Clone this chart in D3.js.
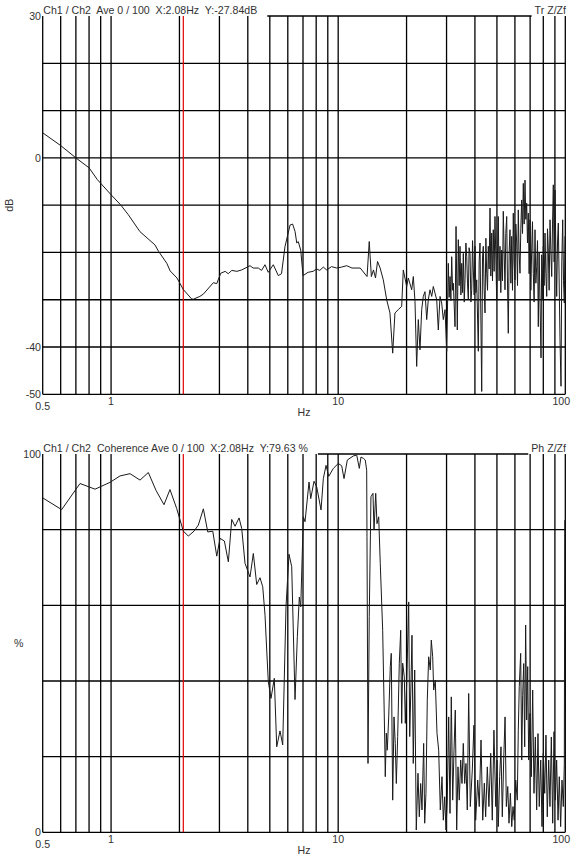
<!DOCTYPE html>
<html>
<head>
<meta charset="utf-8">
<script src="https://cdn.jsdelivr.net/npm/d3@7"></script>
<style>
body { margin: 0; background: #fff; }
text { font-family: "Liberation Sans", Arial, sans-serif; font-size: 10.6px; fill: #333; white-space: pre; }
</style>
</head>
<body>
<svg id="chart" width="573" height="858"></svg>
<script>
// x axis (Hz, log)
var freqLabels = [0.5, 1, 10, 100];
var cursorHz = 2.08;

// top panel: transfer function Tr Z/Zf (dB)
var trTitle = "Ch1 / Ch2  Ave 0 / 100  X:2.08Hz  Y:-27.84dB";
var trTag = "Tr Z/Zf";
var trTickLabels = [30, 0, -40, -50];
// 0.5 .. 30 Hz
var trFreqLow = [0.5, 0.6, 0.7, 0.8, 0.87, 1.0, 1.1, 1.19, 1.34, 1.56, 1.62, 1.76, 1.82, 1.95, 2.08, 2.26, 2.30, 2.46, 2.55, 2.82,
  2.92, 3.04, 3.18, 3.28, 3.40, 3.58, 3.76, 4.09, 4.22, 4.45, 4.60, 4.76, 4.92, 5.18, 5.45, 5.63, 5.83, 6.14, 6.30, 6.46,
  6.57, 6.67, 6.84, 7.00, 7.37, 7.75, 8.03, 8.30, 8.60, 8.90, 9.35, 9.85, 10.35, 10.9, 11.5, 12.5, 13.4, 13.7, 14.0, 14.3,
  14.6, 14.9, 15.3, 15.8, 16.35, 16.9, 17.38, 17.78, 18.39, 19.04, 19.35, 20.03, 20.36, 21.07, 21.42, 21.79, 22.16, 22.53, 22.92, 23.32,
  23.70, 24.11, 24.53, 24.93, 25.37, 25.81, 26.23, 26.69, 27.15, 27.60, 28.08, 28.56, 29.03, 29.54];
var trDbLow = [5.3, 2.6, 0.0, -2.1, -4.6, -7.8, -9.9, -12.0, -15.6, -18.4, -19.8, -22.3, -23.9, -25.4, -27.84, -29.8, -29.9, -29.3, -28.8, -26.4,
  -26.6, -24.4, -24.0, -24.5, -23.8, -24.0, -23.7, -22.8, -23.3, -23.3, -23.8, -22.6, -24.2, -22.6, -24.9, -24.5, -18.8, -14.2, -14.0, -15.6,
  -18.0, -17.7, -19.5, -24.9, -24.2, -24.0, -23.5, -23.8, -23.1, -23.7, -23.0, -23.3, -23.1, -22.8, -23.3, -23.3, -25.1, -17.7, -25.1, -23.7,
  -25.4, -21.9, -23.3, -25.8, -30.0, -32.8, -41.3, -32.8, -32.1, -31.4, -23.7, -27.2, -25.4, -27.9, -25.1, -30.4, -44.1, -34.2, -40.6, -32.1,
  -29.3, -28.3, -34.2, -30.0, -27.9, -29.3, -27.2, -28.6, -30.0, -36.4, -29.3, -30.7, -34.2, -32.1];
// 30 .. 100 Hz
var trFreqHigh = [30.05, 30.54, 30.8, 31.08, 31.35, 31.61, 31.9, 32.13, 32.69, 33.03,
  33.46, 33.80, 34.1, 34.39, 34.7, 34.99, 35.3, 35.56, 35.9, 36.18,
  36.5, 36.81, 37.1, 37.41, 37.7, 38.06, 38.4, 38.72, 39.05, 39.36,
  39.7, 40.04, 40.4, 40.73, 41.40, 41.75, 42.12, 42.85, 43.2, 43.55,
  43.9, 44.31, 44.7, 45.08, 45.45, 45.81, 46.2, 46.61, 47.0, 47.42,
  47.8, 48.19, 48.6, 49.03, 49.88, 50.3, 50.70, 51.1, 51.58, 52.0,
  52.48, 52.9, 53.33, 54.26, 54.7, 55.21, 55.6, 56.10, 56.6, 57.08,
  57.6, 58.08, 58.55, 59.02, 59.5, 60.05, 60.55, 61.09, 61.6, 62.09,
  62.6, 63.17, 63.7, 64.27, 64.8, 65.33, 65.9, 66.46, 67.0, 67.61,
  68.15, 68.72, 69.3, 69.92, 70.5, 71.12, 71.7, 72.30, 72.9, 73.56,
  74.2, 74.84, 75.45, 76.06, 76.7, 77.39, 78.18, 78.7, 79.22, 79.6,
  80.02, 80.7, 81.41, 82.1, 82.83, 83.5, 84.18, 84.9, 85.65, 86.4,
  87.14, 87.85, 88.56, 89.3, 90.11, 90.9, 91.64, 92.4, 93.16, 93.9,
  94.77, 95.74, 96.5, 97.41, 98.2, 99.0, 99.7];
var trDbHigh = [-40.9, -22.3, -29.5, -25.1, -30.2, -20.9, -28.0, -26.5, -35.7, -14.5,
  -36.4, -17.3, -27.0, -18.7, -29.0, -22.3, -28.5, -20.2, -30.5, -25.8,
  -18.0, -20.9, -26.5, -30.0, -19.0, -20.2, -30.5, -27.9, -17.5, -23.7,
  -29.0, -18.7, -28.5, -25.8, -40.9, -22.0, -18.0, -49.4, -21.0, -18.7,
  -27.5, -32.8, -17.0, -24.4, -28.0, -18.7, -23.5, -10.6, -25.0, -15.9,
  -26.0, -15.2, -24.0, -12.4, -30.0, -20.0, -12.4, -26.0, -18.7, -28.5,
  -19.5, -26.0, -11.3, -27.9, -16.0, -12.4, -25.0, -37.1, -20.0, -15.2,
  -26.5, -16.6, -28.0, -11.7, -22.0, -25.8, -14.0, -18.0, -27.0, -11.0,
  -20.0, -24.4, -15.0, -8.9, -16.0, -5.4, -14.0, -4.7, -13.0, -9.6,
  -18.0, -11.7, -24.5, -13.1, -28.0, -19.5, -13.5, -24.4, -30.5, -15.2,
  -26.5, -23.0, -17.5, -35.7, -20.0, -30.7, -42.3, -20.5, -23.7, -30.0,
  -18.7, -27.0, -15.9, -24.5, -29.3, -15.0, -19.5, -28.0, -13.1, -20.0,
  -25.1, -14.0, -5.7, -22.0, -6.8, -20.0, -29.3, -18.0, -13.8, -25.0,
  -38.5, -48.3, -22.0, -13.1, -26.0, -30.7, -16.6];

// bottom panel: coherence (%)
var cohTitle = "Ch1 / Ch2  Coherence Ave 0 / 100  X:2.08Hz  Y:79.63 %";
var cohTag = "Ph Z/Zf";
var cohTickLabels = [100, 0];
var cohFreq = [0.5, 0.606, 0.73, 0.85, 0.989, 1.095, 1.212, 1.341, 1.459, 1.577, 1.71, 1.817, 1.945, 2.08, 2.188, 2.318, 2.422, 2.549, 2.665, 2.804,
  2.92, 3.019, 3.154, 3.284, 3.399, 3.515, 3.66, 3.761, 3.889, 4.091, 4.23, 4.378, 4.527, 4.653, 4.763, 4.845, 4.924, 5.061, 5.233, 5.362,
  5.544, 5.698, 5.892, 6.074, 6.243, 6.456, 6.609, 6.744, 6.841, 7.023, 7.145, 7.441, 7.57, 7.828, 8.045, 8.404, 8.603, 8.842, 9.087, 9.521,
  10.01, 10.36, 10.61, 10.97, 11.66, 12.07, 12.39, 12.6, 12.95, 13.16, 13.35, 13.39, 13.53, 13.7, 13.94, 14.23, 14.38, 14.63, 14.82, 15.08,
  15.32, 15.70, 16.03, 16.12, 16.29, 16.45, 16.69, 16.96, 17.13, 17.38, 17.61, 17.84, 18.03, 18.28, 18.58, 18.85, 19.04, 19.23, 19.55, 19.75,
  20.03, 20.44, 20.65, 20.92, 21.13, 21.41, 21.72, 22.07, 22.46, 22.76, 23.08, 23.39, 23.79, 24.04, 24.35, 24.68, 25.03, 25.44, 25.7, 26.07,
  26.33, 26.76, 27.23, 27.7, 28.16, 28.65, 29.03, 29.44, 29.83, 30.22, 30.66, 31.07, 31.48, 31.93, 32.36, 32.78, 33.25, 33.69, 34.13, 34.63,
  35.09, 35.55, 36.06, 36.53, 37.02, 37.55, 38.17, 38.95, 39.6, 40.3, 41.15, 41.8, 42.55, 43.3, 44.0, 44.6, 45.35, 46.1, 46.95, 47.7,
  48.5, 49.4, 50.05, 50.7, 51.4, 52.1, 52.8, 53.55, 54.3, 55.0, 55.8, 56.5, 57.3, 58.1, 58.85, 59.6, 60.5, 61.45, 62.1, 62.7,
  63.6, 64.3, 64.9, 65.6, 66.25, 66.9, 67.6, 68.3, 69.0, 69.9, 70.85, 71.85, 72.8, 73.8, 74.8, 75.8, 76.8, 77.95, 78.95, 80.0,
  81.15, 82.2, 83.3, 84.5, 85.6, 86.8, 88.0, 89.2, 90.4, 91.6, 92.9, 94.1, 95.4, 96.7, 98.0, 99.0, 99.5];
var cohPct = [88.4, 85.3, 92.2, 90.7, 92.5, 94.2, 94.8, 93.1, 95.1, 90.4, 86.6, 90.6, 85.6, 79.63, 78.3, 79.6, 81.2, 85.5, 79.4, 79.6,
  73.0, 77.7, 77.0, 71.5, 82.7, 80.9, 83.1, 80.3, 71.1, 67.5, 73.7, 65.5, 67.3, 64.9, 57.4, 48.2, 39.8, 35.4, 40.7, 22.6,
  26.8, 23.1, 59.6, 73.5, 70.2, 35.1, 51.7, 62.2, 59.6, 83.4, 82.1, 92.6, 88.2, 92.8, 91.3, 85.2, 93.5, 97.0, 94.1, 96.2,
  97.5, 96.9, 93.5, 98.4, 99.5, 99.7, 96.2, 99.2, 98.8, 98.4, 95.7, 78.1, 18.2, 57.0, 88.7, 89.6, 79.9, 89.6, 81.6, 83.4,
  71.1, 53.4, 24.4, 14.7, 26.2, 21.7, 30.5, 43.8, 47.3, 8.5, 30.5, 23.5, 12.9, 25.3, 44.7, 53.4, 28.8, 44.7, 41.1, 28.8,
  39.4, 60.9, 25.3, 39.4, 52.1, 18.2, 42.9, 0.6, 15.6, 4.1, 12.9, 5.9, 23.5, 2.4, 10.3, 35.0, 46.4, 42.9, 50.8, 46.4,
  37.6, 40.2, 26.2, 21.7, 5.9, 14.7, 3.2, 9.4, 0.6, 8.5, 30.5, 5.0, 35.8, 8.5, 21.7, 32.3, 0.6, 17.3, 8.5, 19.1,
  12.9, 23.5, 12.9, 18.2, 5.9, 36.7, 6.8, 16.5, 28.3, 3.2, 13.8, 6.8, 24.4, 3.2, 13.0, 4.1, 17.3, 6.8, 20.9, 3.2,
  27.0, 6.8, 19.1, 1.5, 14.7, 22.6, 4.1, 19.1, 30.5, 6.8, 12.1, 2.4, 10.3, 1.5, 6.8, 3.2, 13.8, 8.5, 27.0, 38.5,
  47.3, 19.1, 36.1, 44.6, 22.6, 54.8, 29.7, 43.8, 19.1, 31.4, 14.7, 37.6, 10.3, 25.2, 5.9, 26.1, 6.8, 19.1, 1.5, 20.9,
  10.3, 25.7, 4.1, 19.1, 6.8, 25.2, 2.4, 26.6, 8.5, 19.1, 3.2, 14.7, 1.5, 13.8, 6.8, 18.0, 82.5];

var svg = d3.select("#chart");

var x = d3.scaleLog()
    .domain([0.5, 100])
    .range([42.7, 565.3]);

var line = function (y) {
    return d3.line()
        .x(function (d) { return x(d[0]); })
        .y(function (d) { return y(d[1]); });
};

function drawPanel(p) {
    var y = d3.scaleLinear().domain(p.yDomain).range([p.bottom, p.top]);
    var g = svg.append("g");

    // vertical grid lines, one per log tick
    g.append("g").selectAll("line")
        .data(x.ticks())
        .enter().append("line")
        .attr("x1", function (d) { return x(d); })
        .attr("x2", function (d) { return x(d); })
        .attr("y1", p.top)
        .attr("y2", p.bottom)
        .attr("stroke", "#000")
        .attr("stroke-width", 1.3);

    // horizontal grid lines (top border is drawn separately, broken by labels)
    g.append("g").selectAll("line")
        .data(y.ticks(p.yTicks).filter(function (d) { return d !== p.yDomain[1]; }))
        .enter().append("line")
        .attr("x1", x.range()[0])
        .attr("x2", x.range()[1])
        .attr("y1", function (d) { return y(d); })
        .attr("y2", function (d) { return y(d); })
        .attr("stroke", "#000")
        .attr("stroke-width", 1.3);

    // titles
    var title = g.append("text")
        .attr("x", 43.3)
        .attr("y", p.top - 2)
        .text(p.title);
    var tag = g.append("text")
        .attr("x", 566)
        .attr("y", p.top - 2)
        .attr("text-anchor", "end")
        .text(p.tag);
    var titleEnd = 43.3 + title.node().getComputedTextLength() + 10;
    var tagStart = 566 - tag.node().getComputedTextLength() - 3;
    g.append("line")
        .attr("x1", titleEnd)
        .attr("x2", tagStart)
        .attr("y1", p.top)
        .attr("y2", p.top)
        .attr("stroke", "#000")
        .attr("stroke-width", 1.3);

    // cursor
    g.append("line")
        .attr("x1", x(cursorHz))
        .attr("x2", x(cursorHz))
        .attr("y1", p.top)
        .attr("y2", p.bottom)
        .attr("stroke", "#e00000")
        .attr("stroke-width", 1.2);

    // data trace
    svg.append("clipPath").attr("id", "clip" + p.id)
        .append("rect")
        .attr("x", x.range()[0]).attr("y", p.top)
        .attr("width", x.range()[1] - x.range()[0])
        .attr("height", p.bottom - p.top);
    g.append("path")
        .datum(d3.zip(p.freq, p.vals))
        .attr("clip-path", "url(#clip" + p.id + ")")
        .attr("fill", "none")
        .attr("stroke", "#1a1a1a")
        .attr("stroke-width", 1)
        .attr("d", line(y));

    // y tick labels
    g.append("g").selectAll("text")
        .data(p.yLabels)
        .enter().append("text")
        .attr("x", 41)
        .attr("y", function (d) { return y(d); })
        .attr("dy", "0.35em")
        .attr("text-anchor", "end")
        .text(function (d) { return d; });

    // x tick labels (0.5 sits lower than the others)
    g.append("g").selectAll("text")
        .data(freqLabels)
        .enter().append("text")
        .attr("x", function (d) { return d === 100 ? x(d) - 4 : x(d); })
        .attr("y", function (d) { return p.bottom + (d === 0.5 ? 15.7 : 10.2); })
        .attr("text-anchor", "middle")
        .text(function (d) { return d; });

    g.append("text")
        .attr("x", (x.range()[0] + x.range()[1]) / 2)
        .attr("y", p.bottom + 21.7)
        .attr("text-anchor", "middle")
        .text("Hz");

    // y axis name
    var yl = g.append("text")
        .attr("text-anchor", "middle")
        .text(p.yName);
    if (p.rotateName) {
        yl.attr("transform", "translate(13," + (p.top + p.bottom) / 2 + ") rotate(-90)");
    } else {
        yl.attr("x", 18.7).attr("y", (p.top + p.bottom) / 2).attr("dy", "0.35em");
    }
}

drawPanel({
    id: "tr", top: 16, bottom: 394.3, yDomain: [-50, 30], yTicks: 8,
    title: trTitle, tag: trTag, yLabels: trTickLabels,
    freq: trFreqLow.concat(trFreqHigh), vals: trDbLow.concat(trDbHigh),
    yName: "dB", rotateName: true
});

drawPanel({
    id: "coh", top: 454, bottom: 832.3, yDomain: [0, 100], yTicks: 5,
    title: cohTitle, tag: cohTag, yLabels: cohTickLabels,
    freq: cohFreq, vals: cohPct, yName: "%", rotateName: false
});
</script>
</body>
</html>
